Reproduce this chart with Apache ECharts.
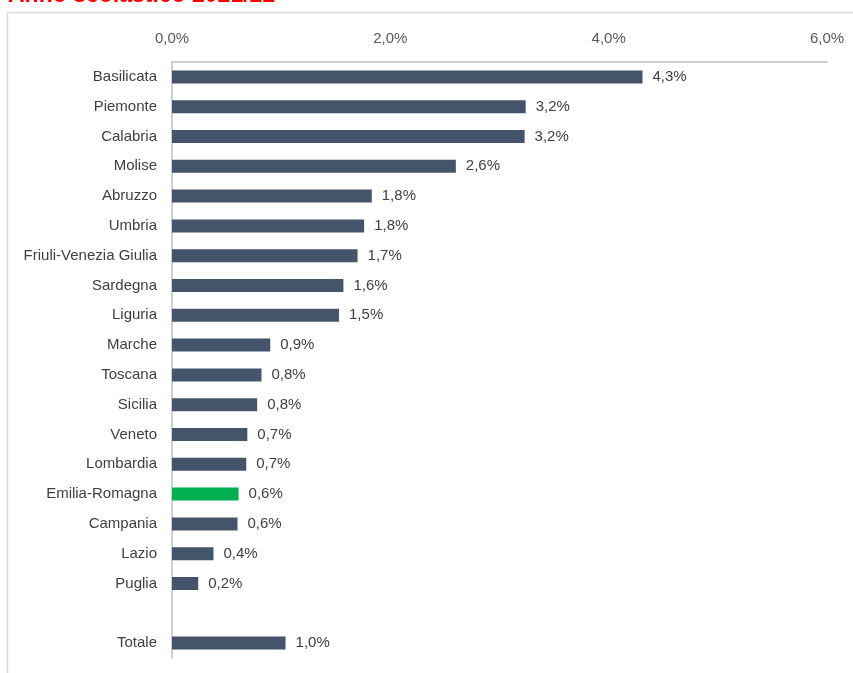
<!DOCTYPE html>
<html>
<head>
<meta charset="utf-8">
<script src="https://cdn.jsdelivr.net/npm/echarts@6/dist/echarts.min.js"></script>
<style>
  html, body { margin: 0; padding: 0; background: #fff; }
  #chart { width: 853px; height: 673px; }
</style>
</head>
<body>
<div id="chart"></div>
<script>
// Regions, top to bottom; the blank entry leaves a gap before the total
const regions = [
  'Basilicata', 'Piemonte', 'Calabria', 'Molise', 'Abruzzo', 'Umbria',
  'Friuli-Venezia Giulia', 'Sardegna', 'Liguria', 'Marche', 'Toscana',
  'Sicilia', 'Veneto', 'Lombardia', 'Emilia-Romagna', 'Campania',
  'Lazio', 'Puglia', '', 'Totale'
];
// Percentage per region (null for the blank row)
const rates = [
  4.31, 3.24, 3.23, 2.6, 1.83, 1.76,
  1.70, 1.57, 1.53, 0.90, 0.82,
  0.78, 0.69, 0.68, 0.61, 0.60,
  0.38, 0.24, null, 1.04
];
const highlighted = 'Emilia-Romagna';
const axisTicks = [0, 2, 4, 6];

const fmt = v => v.toFixed(1).replace('.', ',') + '%';
const FONT = '"Liberation Sans", sans-serif';

const chart = echarts.init(document.getElementById('chart'), null, { renderer: 'canvas' });

chart.setOption({
  animation: false,
  backgroundColor: '#ffffff',
  graphic: [
    {
      type: 'rect',
      shape: { x: 7.5, y: 12.5, width: 900, height: 700 },
      style: { fill: 'none', stroke: '#d9d9d9', lineWidth: 1.5 },
      silent: true
    },
    {
      type: 'text',
      x: 8,
      y: 7,
      style: {
        text: 'Anno scolastico 2021/22',
        fill: '#ff0000',
        font: 'bold 23px "Liberation Sans", sans-serif',
        textVerticalAlign: 'bottom'
      },
      silent: true
    }
  ],
  grid: { left: 172, right: 26, top: 62, bottom: 15 },
  xAxis: {
    type: 'value',
    position: 'top',
    min: axisTicks[0],
    max: axisTicks[axisTicks.length - 1],
    interval: 2,
    axisLine: { show: true, lineStyle: { color: '#bfbfbf', width: 1.5 } },
    axisTick: { show: false },
    splitLine: { show: false },
    axisLabel: {
      margin: 16,
      color: '#595959',
      fontSize: 15,
      fontFamily: FONT,
      formatter: v => fmt(v)
    }
  },
  yAxis: {
    type: 'category',
    data: regions,
    inverse: true,
    axisLine: { show: true, lineStyle: { color: '#bfbfbf', width: 1.5 } },
    axisTick: { show: false },
    axisLabel: {
      margin: 15,
      color: '#404040',
      fontSize: 15,
      fontFamily: FONT,
      padding: [3, 0, 0, 0]
    }
  },
  series: [{
    type: 'bar',
    barWidth: 13,
    data: rates.map((v, i) => ({
      value: v,
      itemStyle: { color: regions[i] === highlighted ? '#00b050' : '#44546a' }
    })),
    label: {
      show: true,
      position: 'right',
      distance: 10,
      color: '#404040',
      fontSize: 15,
      fontFamily: FONT,
      padding: [3, 0, 0, 0],
      formatter: p => (p.value == null ? '' : fmt(p.value))
    }
  }]
});
</script>
</body>
</html>
